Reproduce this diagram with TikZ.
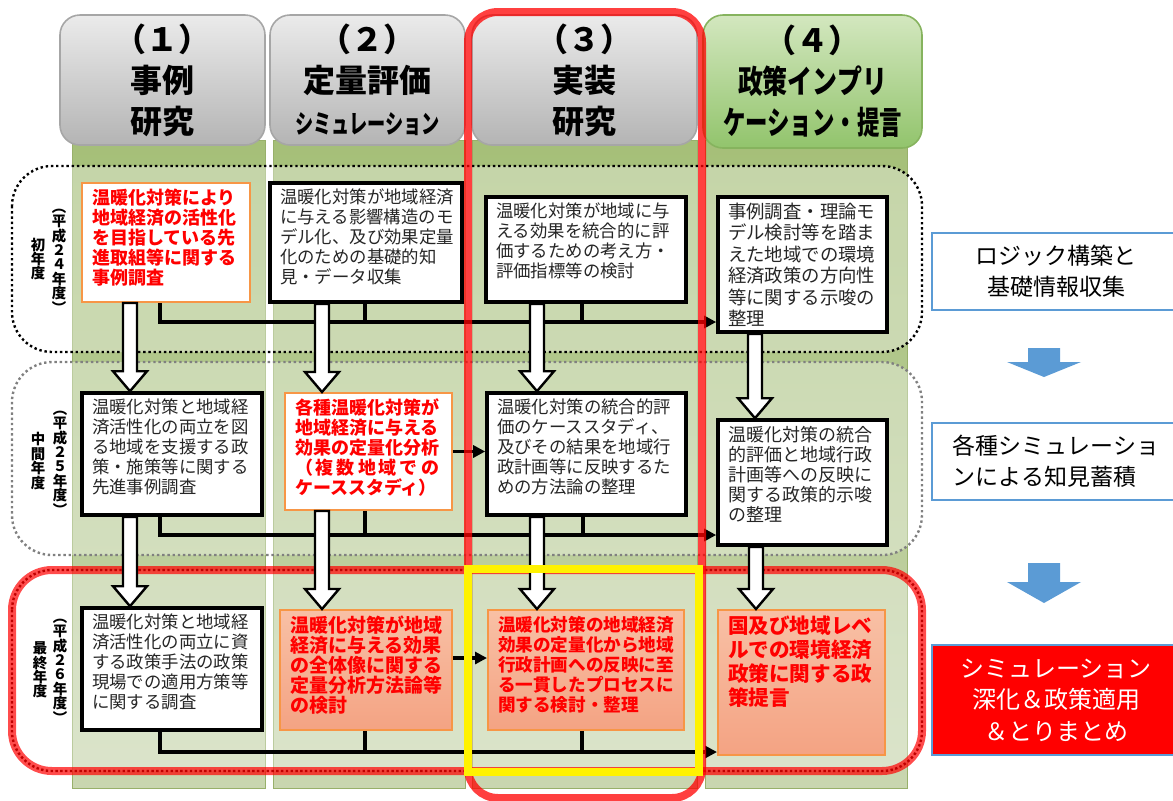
\documentclass[tikz,border=0pt]{standalone}
\usepackage{fontspec}
\setmainfont{Noto Sans CJK JP}
\usepackage{graphicx}
\usetikzlibrary{calc,arrows.meta}

\definecolor{stripgreen}{HTML}{A5BF78}
\definecolor{stripgreenlow}{HTML}{C9D6B0}
\definecolor{stripedge}{HTML}{98B06A}
\definecolor{headgraytop}{HTML}{EBEBEB}
\definecolor{headgraybot}{HTML}{B4B4B4}
\definecolor{headgrayedge}{HTML}{A6A6A6}
\definecolor{headgreentop}{HTML}{D3E7BF}
\definecolor{headgreenbot}{HTML}{92C46C}
\definecolor{headgreenedge}{HTML}{86B35E}
\definecolor{boxorange}{HTML}{F79646}
\definecolor{salmontop}{HTML}{F8C0A5}
\definecolor{salmonbot}{HTML}{F4A383}
\definecolor{textgray}{HTML}{262626}
\definecolor{ruleblue}{HTML}{5B9BD5}
\definecolor{dotred}{HTML}{C00000}

\newcommand{\bt}[3]{\parbox[c][#2pt][t]{#1pt}{\raggedright #3}}
\newcommand{\whitedown}[3]{%
	\coordinate (wtop) at (#2.south -| #1,0);
	\coordinate (wtip) at (#3.north -| #1,0);
	\draw[warrow] ($(wtop)+(-7,0)$) -- ($(wtip)+(-7,-20)$) -- ($(wtip)+(-17,-20)$) -- (wtip) -- ($(wtip)+(17,-20)$) -- ($(wtip)+(7,-20)$) -- ($(wtop)+(7,0)$) -- cycle;}
\newcommand{\bluedown}[4]{\fill[ruleblue] (#1-16,#2) -- (#1-16,#3) -- (#1-37,#3) -- (#1,#4) -- (#1+37,#3) -- (#1+16,#3) -- (#1+16,#2) -- cycle;}

\tikzset{
	headgray/.style={rounded corners=10pt,top color=headgraytop,bottom color=headgraybot,draw=headgrayedge,line width=0.8pt,align=center,inner sep=0pt,font=\bfseries\fontsize{16}{20.5}\selectfont},
	headgreen/.style={headgray,top color=headgreentop,bottom color=headgreenbot,draw=headgreenedge},
	yearrow/.style={fill=white,fill opacity=.35,line width=1.2pt,dash pattern=on 1.2pt off 1.4pt,rounded corners=20pt},
	yearlbl/.style={align=center,inner sep=0pt,font=\bfseries\fontsize{7.2}{7.2}\selectfont},
	blackbox/.style={draw=black,line width=1.8pt,fill=white,inner xsep=5pt,inner ysep=3pt,text=textgray,font=\fontsize{8.7}{10}\selectfont},
	redbox/.style={draw=boxorange,line width=1pt,fill=white,inner xsep=5pt,inner ysep=3pt,text=red,font=\bfseries\fontsize{9}{10}\selectfont},
	salmonbox/.style={redbox,top color=salmontop,bottom color=salmonbot},
	conn/.style={line width=1.6pt},
	conntip/.style={-{Triangle[length=6pt,width=6pt]}},
	warrow/.style={draw=black,line width=1.2pt,fill=white},
	sidebox/.style={draw=ruleblue,line width=0.6pt,fill=white,minimum width=124pt,minimum height=38.5pt,align=center,font=\fontsize{11.5}{15.5}\selectfont}
}

\begin{document}
\begin{tikzpicture}[x=0.5pt,y=-0.5pt]
	\useasboundingbox (0,0) rectangle (1173,800);
	\foreach \xa/\xb in {72/265,273/465,472/697,705/907}
		\shadedraw[top color=stripgreen,bottom color=stripgreenlow,draw=stripedge] (\xa,140) rectangle (\xb,788);
	\draw[yearrow,draw=black] (12,166) rectangle (922,352);
	\draw[yearrow,draw=gray] (12,362) rectangle (922,555);
	\fill[white,fill opacity=.35,rounded corners=20pt] (12,570) rectangle (922,771);
	\draw[red,draw opacity=.7,line width=4pt,rounded corners=20pt] (12,570) rectangle (922,771);
	\draw[dotred,line width=1.2pt,dash pattern=on 1.2pt off 1.2pt,rounded corners=20pt] (12,570) rectangle (922,771);

	\node[headgray,minimum width=102.5pt,minimum height=65pt] (h1) at (162.5,80) {（１）\\事例\\研究};
	\node[headgray,minimum width=97.5pt,minimum height=65pt] (h2) at (367.5,80) {（２）\\定量評価\\\scalebox{0.7}[1]{\fontsize{13}{13}\selectfont シミュレーション}};
	\node[headgray,minimum width=112.5pt,minimum height=65pt] (h3) at (584.5,80) {（３）\\実装\\研究};
	\node[headgreen,minimum width=109.5pt,minimum height=66.5pt] (h4) at (812.5,81.5) {（４）\\\scalebox{0.78}[1]{政策インプリ}\\\scalebox{0.7}[1]{ケーション・提言}};

	\node[yearlbl] (y1a) at (59,261) {︵\\平\\成\\２\\４\\年\\度\\︶};
	\node[yearlbl] (y1b) at (38,259) {初\\年\\度};
	\node[yearlbl] (y2a) at (60,463) {︵\\平\\成\\２\\５\\年\\度\\︶};
	\node[yearlbl] (y2b) at (38,461) {中\\間\\年\\度};
	\node[yearlbl] (y3a) at (60,671) {︵\\平\\成\\２\\６\\年\\度\\︶};
	\node[yearlbl] (y3b) at (40,670) {最\\終\\年\\度};

	\node[redbox] (b11) at (166,242.5) {\bt{74}{53.5}{温暖化対策により\\地域経済の活性化\\を目指している先\\進取組等に関する\\事例調査}};
	\node[blackbox] (b12) at (366,242.5) {\bt{86}{53.5}{温暖化対策が地域経済\\に与える影響構造のモ\\デル化、及び効果定量\\化のための基礎的知\\見・データ収集}};
	\node[blackbox] (b13) at (586,249.5) {\bt{90}{46.5}{温暖化対策が地域に与\\える効果を統合的に評\\価するための考え方・\\評価指標等の検討}};
	\node[blackbox,font=\fontsize{9.2}{10.75}\selectfont] (b14) at (802.5,264.5) {\bt{74.5}{61.5}{事例調査・理論モ\\デル検討等を踏ま\\えた地域での環境\\経済政策の方向性\\等に関する示唆の\\整理}};
	\node[blackbox] (b21) at (172,454) {\bt{80}{55}{温暖化対策と地域経\\済活性化の両立を図\\る地域を支援する政\\策・施策等に関する\\先進事例調査}};
	\node[redbox] (b22) at (368.5,451.5) {\bt{73.5}{52.5}{各種温暖化対策が\\地域経済に与える\\効果の定量化分析\\\makebox[72pt][l]{（\hfill 複\hfill 数\hfill 地\hfill 域\hfill で\hfill の}\\ケーススタディ）}};
	\node[blackbox] (b23) at (586.5,454) {\bt{89.5}{55}{温暖化対策の統合的評\\価のケーススタディ、\\及びその結果を地域行\\政計画等に反映するた\\めの方法論の整理}};
	\node[blackbox,font=\fontsize{9}{10}\selectfont] (b24) at (802.5,482.5) {\bt{74.5}{56.5}{温暖化対策の統合\\的評価と地域行政\\計画等への反映に\\関する政策的示唆\\の整理}};
	\node[blackbox] (b31) at (172,669) {\bt{80}{55}{温暖化対策と地域経\\済活性化の両立に資\\する政策手法の政策\\現場での適用方策等\\に関する調査}};
	\node[salmonbox,font=\bfseries\fontsize{9.5}{10}\selectfont] (b32) at (366,670) {\bt{76}{54}{温暖化対策が地域\\経済に与える効果\\の全体像に関する\\定量分析方法論等\\の検討}};
	\node[salmonbox,font=\bfseries\fontsize{8.8}{10}\selectfont] (b33) at (586,670) {\bt{88}{54}{温暖化対策の地域経済\\効果の定量化から地域\\行政計画への反映に至\\る一貫したプロセスに\\関する検討・整理}};
	\node[salmonbox,font=\bfseries\fontsize{10.3}{12}\selectfont] (b34) at (801.5,682.5) {\bt{73.5}{66.5}{国及び地域レベ\\ルでの環境経済\\政策に関する政\\策提言}};

	\coordinate (bus1) at (0,322);
	\coordinate (bus2) at (0,535);
	\coordinate (bus3) at (0,752);
	\coordinate (mid3) at (0,658);
	\draw[conn,conntip] (b11.south -| 160,0) |- (b14.west |- bus1);
	\draw[conn] (b12.south -| 365,0) -- (bus1 -| 365,0);
	\draw[conn] (b13.south -| 582,0) -- (bus1 -| 582,0);
	\draw[conn,conntip] (b21.south -| 160,0) |- (b24.west |- bus2);
	\draw[conn] (b22.south -| 365,0) -- (bus2 -| 365,0);
	\draw[conn] (b23.south -| 583,0) -- (bus2 -| 583,0);
	\draw[conn,conntip] (b22.east) -- (b23.west |- b22.east);
	\draw[conn,conntip] (b31.south -| 160,0) |- (b34.west |- bus3);
	\draw[conn] (b32.south -| 365,0) -- (bus3 -| 365,0);
	\draw[conn] (b33.south -| 582,0) -- (bus3 -| 582,0);
	\draw[conn,conntip] (b32.east |- mid3) -- (b33.west |- mid3);

	\whitedown{130}{b11}{b21}
	\whitedown{322}{b12}{b22}
	\whitedown{537}{b13}{b23}
	\whitedown{755}{b14}{b24}
	\whitedown{130}{b21}{b31}
	\whitedown{322}{b22}{b32}
	\whitedown{537}{b23}{b33}
	\whitedown{756}{b24}{b34}

	\draw[red,draw opacity=.75,line width=4pt,rounded corners=15pt] (468,12) rectangle (702,798);
	\draw[yellow,line width=4pt] (468,569) rectangle (699,772);

	\node[sidebox] (r1) at (1056,271.5) {ロジック構築と\\基礎情報収集};
	\node[sidebox,align=left] (r2) at (1056,461.5) {各種シミュレーショ\\ンによる知見蓄積};
	\node[sidebox,fill=red,text=white,minimum height=55pt,font=\fontsize{12}{15.75}\selectfont] (r3) at (1056,700) {シミュレーション\\深化＆政策適用\\＆とりまとめ};
	\bluedown{1044}{348}{362}{377}
	\bluedown{1044}{563}{582}{603}
\end{tikzpicture}
\end{document}
